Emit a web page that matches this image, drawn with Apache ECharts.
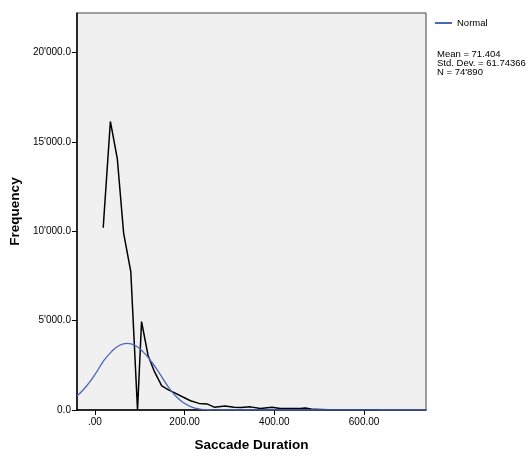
<!DOCTYPE html>
<html>
<head>
<meta charset="utf-8">
<script src="https://cdn.jsdelivr.net/npm/echarts@6/dist/echarts.min.js"></script>
<style>
html,body{margin:0;padding:0;background:#fff;}
#chart{width:528px;height:457px;}
</style>
</head>
<body>
<div id="chart"></div>
<script>
// Frequency polygon (black)
const durationX = [18.5, 34.5, 50, 64, 80, 95, 104, 118.5, 133, 149, 165, 178, 195, 213, 232, 250, 267, 290, 310, 325, 347, 369, 395, 413, 435, 458, 469, 487, 520, 560, 600, 633];
const frequencyY = [10200, 16150, 14050, 9900, 7750, 0, 4950, 3050, 2130, 1350, 1110, 960, 740, 520, 370, 340, 150, 220, 160, 145, 175, 90, 160, 80, 80, 90, 110, 35, 15, 10, 10, 10];
// Normal curve (blue)
const normalX = [-40, -20, 0, 18, 36, 54, 72, 90, 108, 126, 144, 162, 180, 198, 216, 234, 252, 270, 300, 738];
const normalY = [776, 1300, 1980, 2700, 3240, 3610, 3733, 3610, 3240, 2700, 2050, 1350, 780, 400, 160, 55, 15, 3, 0, 0];
// Axis ticks
const xTicks = [0, 200, 400, 600];
const yTicks = [0, 5000, 10000, 15000, 20000];
const statsLines = ['Mean = 71.404', 'Std. Dev. = 61.74366', "N = 74'890"];

function fmtY(v) {
  const s = Math.round(v).toString().replace(/\B(?=(\d{3})+(?!\d))/g, "'");
  return s + '.0';
}
function fmtX(v) {
  return v === 0 ? '.00' : v.toFixed(2);
}

const chart = echarts.init(document.getElementById('chart'), null, {renderer: 'canvas'});
const font = 'Liberation Sans, Arial, sans-serif';
chart.setOption({
  animation: false,
  backgroundColor: '#ffffff',
  textStyle: {fontFamily: font},
  grid: {left: 76, top: 13, right: 102, bottom: 44, show: true, backgroundColor: '#F0F0F0', borderColor: '#444444', borderWidth: 1},
  legend: {
    show: true, left: 430, top: 13, orient: 'vertical',
    data: [{name: 'Normal', icon: 'rect'}],
    itemWidth: 17, itemHeight: 2, itemGap: 4,
    textStyle: {fontFamily: font, fontSize: 9.5, color: '#000'}
  },
  xAxis: {
    type: 'value', min: -40, max: 738,
    name: 'Saccade Duration', nameLocation: 'middle', nameGap: 28,
    nameTextStyle: {fontFamily: font, fontSize: 13.5, fontWeight: 'bold', color: '#000'},
    axisLine: {show: true, onZero: false, lineStyle: {color: '#000', width: 1.5}},
    axisTick: {show: true, length: 5, lineStyle: {color: '#000'}, customValues: xTicks},
    axisLabel: {color: '#000', fontSize: 10, fontFamily: font, margin: 7, formatter: fmtX, customValues: xTicks},
    splitLine: {show: false}
  },
  yAxis: {
    type: 'value', min: 0, max: 22220,
    name: 'Frequency', nameLocation: 'middle', nameGap: 52, nameRotate: 90,
    nameTextStyle: {fontFamily: font, fontSize: 13.5, fontWeight: 'bold', color: '#000'},
    axisLine: {show: true, onZero: false, lineStyle: {color: '#000', width: 1.5}},
    axisTick: {show: true, length: 5, lineStyle: {color: '#000'}, customValues: yTicks},
    axisLabel: {color: '#000', fontSize: 10, fontFamily: font, margin: 6, formatter: fmtY, customValues: yTicks},
    splitLine: {show: false}
  },
  series: [
    {
      name: 'Normal', type: 'line', smooth: 0.5, showSymbol: false,
      data: normalX.map((x, i) => [x, normalY[i]]),
      lineStyle: {color: '#4A66BD', width: 1.3}, itemStyle: {color: '#4A66BD'}, z: 3
    },
    {
      name: 'Frequency', type: 'line', smooth: false, showSymbol: false,
      data: durationX.map((x, i) => [x, frequencyY[i]]),
      lineStyle: {color: '#000', width: 1.5}, itemStyle: {color: '#000'}, z: 2
    }
  ],
  graphic: statsLines.map((t, i) => ({
    type: 'text', left: 437, top: 49 + i * 9,
    style: {text: t, fill: '#000', font: '9.5px Liberation Sans, Arial, sans-serif'}
  }))
});
</script>
</body>
</html>
